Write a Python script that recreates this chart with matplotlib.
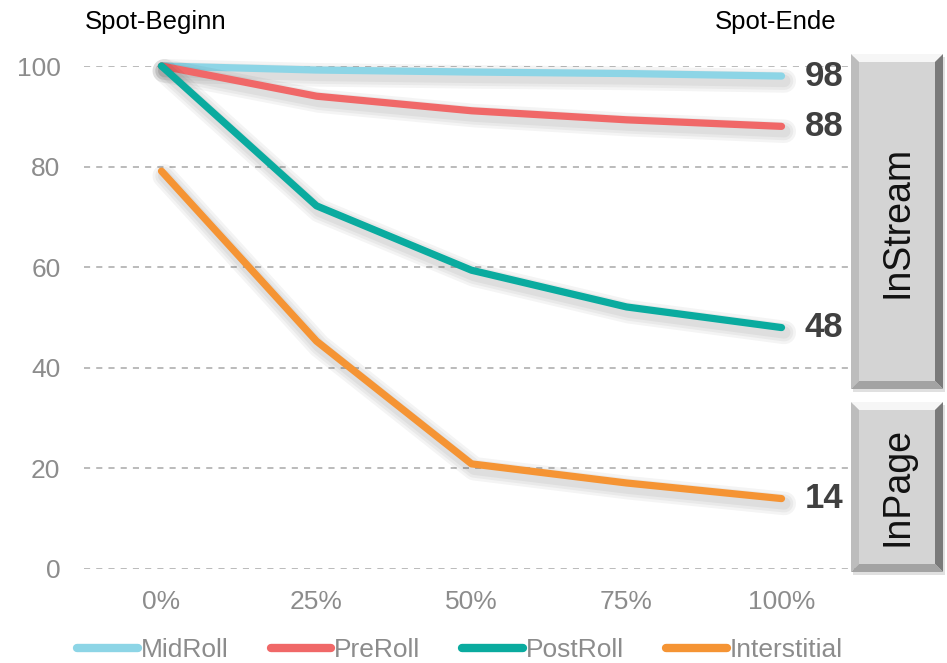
import matplotlib.pyplot as plt
import matplotlib.patheffects as pe
from matplotlib.patches import Polygon
from matplotlib.lines import Line2D

plt.rcParams['font.family'] = ['Liberation Sans', 'DejaVu Sans']

# Anteil der Betrachter im Verlauf des Spots
positions = ['0%', '25%', '50%', '75%', '100%']
midroll = [100, 99.2, 98.8, 98.5, 98]
preroll = [100, 94.0, 91.1, 89.3, 88]
postroll = [100, 72.2, 59.4, 52.1, 48]
interstitial = [79.1, 45.3, 20.9, 17.1, 14]

series = [
    ('MidRoll', midroll, '#8dd5e6'),
    ('PreRoll', preroll, '#f06868'),
    ('PostRoll', postroll, '#0aab9f'),
    ('Interstitial', interstitial, '#f59434'),
]
end_labels = [98, 88, 48, 14]

W, H = 947, 663
fig = plt.figure(figsize=(W / 100, H / 100), dpi=100)
ax = fig.add_axes([84 / W, 1 - 569 / H, (859 - 84) / W, (569 - 66) / H])

shadow = [pe.SimpleLineShadow(offset=(2, -3.5), shadow_color='k', alpha=0.045, linewidth=w)
          for w in (17, 13, 9)] + [pe.Normal()]

x = range(len(positions))
handles = []
for name, vals, col in series:
    ax.plot(x, vals, color=col, lw=5.2, clip_on=False,
            solid_capstyle='round', solid_joinstyle='round', path_effects=shadow, zorder=3)
    handles.append(Line2D([], [], color=col, lw=6, solid_capstyle='round', label=name))

for v in end_labels:
    ax.text(4.15, v, str(v), fontsize=25, fontweight='bold', color='#404040',
            va='center', ha='left')

ax.set_xlim(-0.5, 4.5)
ax.set_ylim(0, 100)
ax.set_yticks(range(0, 101, 20))
ax.set_xticks(list(x))
ax.set_xticklabels(positions)
ax.tick_params(length=0, labelsize=19, labelcolor='#8c8c8c')
ax.tick_params(axis='y', pad=17)
ax.tick_params(axis='x', pad=15)
ax.grid(axis='y', color='#a8a8a8', ls=(0, (4, 4)), lw=1.1)
ax.set_axisbelow(True)
for s in ax.spines.values():
    s.set_visible(False)

fig.text(85 / W, 1 - 22 / H, 'Spot-Beginn', fontsize=18.5, va='center', ha='left')
fig.text(836 / W, 1 - 22 / H, 'Spot-Ende', fontsize=18.5, va='center', ha='right')


# abgeschrägte Kästen rechts
def bevel_box(x0, y0, x1, y1, label):
    tr = fig.transFigure
    def P(px, py):
        return (px / W, 1 - py / H)
    b = 8
    # Schatten
    fig.patches.append(Polygon([P(x0 + 2, y0 + 3), P(x1 + 2, y0 + 3), P(x1 + 2, y1 + 3), P(x0 + 2, y1 + 3)],
                               closed=True, transform=tr, fc='#000000', alpha=0.12, ec='none', zorder=5))
    faces = [
        ([P(x0, y0), P(x1, y0), P(x1 - b, y0 + b), P(x0 + b, y0 + b)], '#f6f6f6'),
        ([P(x0, y0), P(x0 + b, y0 + b), P(x0 + b, y1 - b), P(x0, y1)], '#bdbdbd'),
        ([P(x1, y0), P(x1, y1), P(x1 - b, y1 - b), P(x1 - b, y0 + b)], '#7a7a7a'),
        ([P(x0, y1), P(x1, y1), P(x1 - b, y1 - b), P(x0 + b, y1 - b)], '#a3a3a3'),
        ([P(x0 + b, y0 + b), P(x1 - b, y0 + b), P(x1 - b, y1 - b), P(x0 + b, y1 - b)], '#d4d4d4'),
    ]
    for pts, c in faces:
        fig.patches.append(Polygon(pts, closed=True, transform=tr, fc=c, ec='none', zorder=6))
    fig.text((x0 + x1) / 2 / W, 1 - (y0 + y1) / 2 / H, label, rotation=90, fontsize=27,
             ha='center', va='center', color='#111111', zorder=8)


bevel_box(851, 54, 943, 389, 'InStream')
bevel_box(851, 402, 943, 572, 'InPage')

fig.legend(handles=handles, loc='center', bbox_to_anchor=(460 / W, 1 - 650 / H), ncol=4,
           frameon=False, fontsize=19, labelcolor='#8c8c8c', handlelength=2.3,
           handletextpad=0.1, columnspacing=1.6, borderaxespad=0)

fig.savefig('out.png', dpi=100)
